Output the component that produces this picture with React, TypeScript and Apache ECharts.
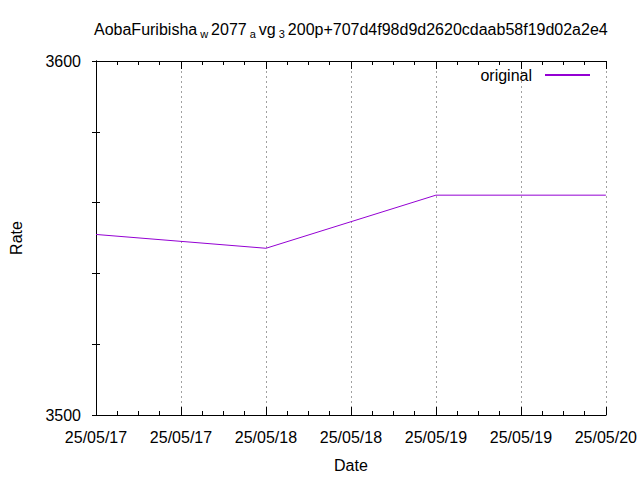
import React, { useEffect, useRef } from "react";
import * as echarts from "echarts";

const dates = ["2025-05-17", "2025-05-18", "2025-05-19", "2025-05-20"];
const rates = [3551.0, 3547.1, 3562.1, 3562.1];
const seriesName = "original";
const yMin = 3500;
const yMax = 3600;
const yLabelStep = 100;
const yMinorStep = 20;
const xStart = "2025-05-17";
const xEnd = "2025-05-20";
const xLabelStepHours = 12;
const xMinorStepHours = 3;

const HOUR = 3600 * 1000;
const t0 = Date.parse(xStart + "T00:00:00Z");
const toHours = (d: string) => (Date.parse(d + "T00:00:00Z") - t0) / HOUR;
const pad = (n: number) => (n < 10 ? "0" + n : "" + n);
const fmt = (h: number) => {
  const t = new Date(t0 + h * HOUR);
  return pad(t.getUTCFullYear() % 100) + "/" + pad(t.getUTCMonth() + 1) + "/" + pad(t.getUTCDate());
};

const FONT = "Liberation Sans";
const FS = 16;
const COLOR = "#9400d3";

export default function App() {
  const ref = useRef<HTMLDivElement>(null);
  useEffect(() => {
    if (!ref.current) return;
    const chart = echarts.init(ref.current, null, { renderer: "svg" });
    const xMax = toHours(xEnd);
    const line = { show: true, lineStyle: { color: "#000", width: 1 } };
    const tick = (len: number) => ({ show: true, inside: true, length: len, lineStyle: { color: "#000", width: 1 } });
    const xBase = { type: "value" as const, min: 0, max: xMax, axisLine: line, splitLine: { show: false }, minorTick: { show: false } };
    const yBase = { type: "value" as const, min: yMin, max: yMax, axisLine: line, splitLine: { show: false }, minorTick: { show: false } };
    chart.setOption({
      animation: false,
      backgroundColor: "#fff",
      textStyle: { fontFamily: FONT },
      title: {
        text: "AobaFuribisha{s|w}2077{s|a}vg{s|3}200p+707d4f98d9d2620cdaab58f19d02a2e4",
        left: 94,
        top: 19,
        padding: 0,
        textStyle: {
          fontFamily: FONT,
          fontSize: FS,
          fontWeight: "normal",
          color: "#000",
          rich: {
            s: { fontFamily: FONT, fontSize: 11, color: "#000", padding: [9, 3, 0, 3], verticalAlign: "top" },
          },
        },
      },
      legend: {
        show: true,
        right: 50,
        top: 67,
        align: "right",
        itemWidth: 45,
        itemHeight: 2,
        padding: 0,
        textStyle: { fontFamily: FONT, fontSize: FS, color: "#000", padding: [0, 8, 0, 0] },
        data: [{ name: seriesName, icon: "rect" }],
      },
      grid: { left: 95, right: 31, top: 61, bottom: 65, containLabel: false },
      xAxis: [
        {
          ...xBase,
          position: "bottom",
          interval: xMinorStepHours,
          axisTick: tick(4),
          axisLabel: {
            fontFamily: FONT,
            fontSize: FS,
            color: "#000",
            margin: 14,
            showMinLabel: true,
            showMaxLabel: true,
            formatter: (v: number) => (Math.abs(v % xLabelStepHours) < 1e-6 ? fmt(v) : ""),
          },
          name: "Date",
          nameLocation: "middle",
          nameGap: 42,
          nameTextStyle: { fontFamily: FONT, fontSize: FS, color: "#000" },
        },
        {
          ...xBase,
          position: "bottom",
          interval: xLabelStepHours,
          axisTick: tick(8),
          axisLabel: { show: false },
          splitLine: { show: true, lineStyle: { color: "#a0a0a0", type: [2, 3], width: 1 } },
        },
        { ...xBase, position: "top", interval: xMinorStepHours, axisTick: tick(4), axisLabel: { show: false } },
        { ...xBase, position: "top", interval: xLabelStepHours, axisTick: tick(8), axisLabel: { show: false } },
      ],
      yAxis: [
        {
          ...yBase,
          position: "left",
          interval: yMinorStep,
          axisTick: tick(4),
          axisLabel: {
            fontFamily: FONT,
            fontSize: FS,
            color: "#000",
            margin: 15,
            formatter: (v: number) => (Math.abs((v - yMin) % yLabelStep) < 1e-6 ? String(v) : ""),
          },
          name: "Rate",
          nameLocation: "middle",
          nameGap: 72,
          nameRotate: 90,
          nameTextStyle: { fontFamily: FONT, fontSize: FS, color: "#000" },
        },
        { ...yBase, position: "right", interval: yMinorStep, axisTick: tick(4), axisLabel: { show: false } },
      ],
      series: [
        {
          name: seriesName,
          type: "line",
          xAxisIndex: 0,
          yAxisIndex: 0,
          data: dates.map((d, i) => [toHours(d), rates[i]]),
          showSymbol: false,
          symbol: "none",
          lineStyle: { color: COLOR, width: 1 },
          itemStyle: { color: COLOR },
        },
      ],
    });
    return () => chart.dispose();
  }, []);
  return <div ref={ref} style={{ width: 640, height: 480, position: "absolute", left: 0, top: 0 }} />;
}
